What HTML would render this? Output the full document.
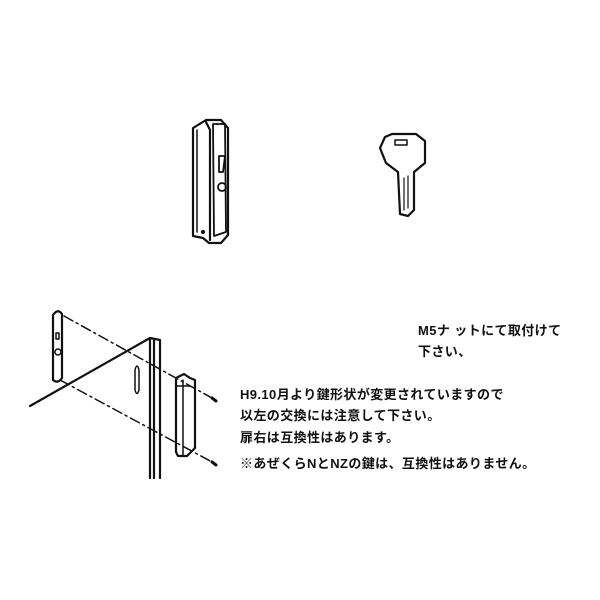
<!DOCTYPE html>
<html><head><meta charset="utf-8"><style>
body{margin:0;background:#fff}
.t{position:absolute;font-family:"Liberation Sans","Noto Sans CJK JP",sans-serif;font-weight:bold;font-size:13px;color:#111;white-space:nowrap;letter-spacing:0.4px}
</style></head><body>
<div style="position:relative;width:600px;height:600px;overflow:hidden">
<svg width="600" height="600" style="position:absolute;left:0;top:0" fill="none" stroke="#111" stroke-width="2.2" stroke-linejoin="round" stroke-linecap="round">
<path d="M193 128 L206 120 L221 120 L228 128 L228 235 L221 243 L209 243 L203 238 L193 236 Z"/>
<path d="M206 122 L210 130 L210 240"/>
<path d="M213 124 L225 124 L226 232 L214 236 Z" stroke-width="1.8"/>
<path d="M219 156 L225 156 L223 172 L219 172 Z" stroke-width="1.8"/>
<circle cx="222" cy="187" r="4" stroke-width="1.8"/>
<path d="M197 130 L197 232" stroke-width="1.5"/>
<path d="M385 137 L392 134 L416 134 L425 141 L425 163 L414 172 L414 210 L408 216 L400 214 L398 172 L386 163 L380 148 Z"/>
<rect x="395" y="140" width="12" height="5" stroke-width="1.5"/>
<path d="M404 178 L404 210 M408 176 L408 208" stroke-width="1.2"/>
<path d="M53 315 Q58 308 62 314 L62 378 Q58 384 53 380 Z"/>
<rect x="56" y="333" width="3" height="6" stroke-width="1.5"/>
<circle cx="58" cy="352" r="3" stroke-width="1.5"/>
<path d="M30 406 L150 338 L160 340 L160 478 M150 338 L150 478 M154 340 L154 478"/>
<path d="M135 370 Q137 362 139 370 L139 390 Q137 397 135 390 Z" stroke-width="1.5"/>
<path d="M176 378 L184 374 L190 378 L195 380 L195 448 L187 456 L178 456 L176 452 Z"/>
<path d="M183 380 L183 456 M176 386 L190 386" stroke-width="1.5"/>
<path d="M64 316 L212 398" stroke-dasharray="10 4 2 4" stroke-width="1.5"/>
<path d="M60 380 L212 462" stroke-dasharray="10 4 2 4" stroke-width="1.5"/>
<path d="M212 398 l4 3 M212 462 l4 3" stroke-width="3"/>
<circle cx="203" cy="232" r="1" fill="#111"/>
</svg>
<div class="t" style="left:418px;top:320px">M5ナ ットにて取付けて</div>
<div class="t" style="left:418px;top:341px">下さい、</div>
<div class="t" style="left:240px;top:384px">H9.10月より鍵形状が変更されていますので</div>
<div class="t" style="left:240px;top:405px">以左の交換には注意して下さい。</div>
<div class="t" style="left:240px;top:427px">扉右は互換性はあります。</div>
<div class="t" style="left:240px;top:453px">※あぜくらNとNZの鍵は、互換性はありません。</div>
</div>
</body></html>
